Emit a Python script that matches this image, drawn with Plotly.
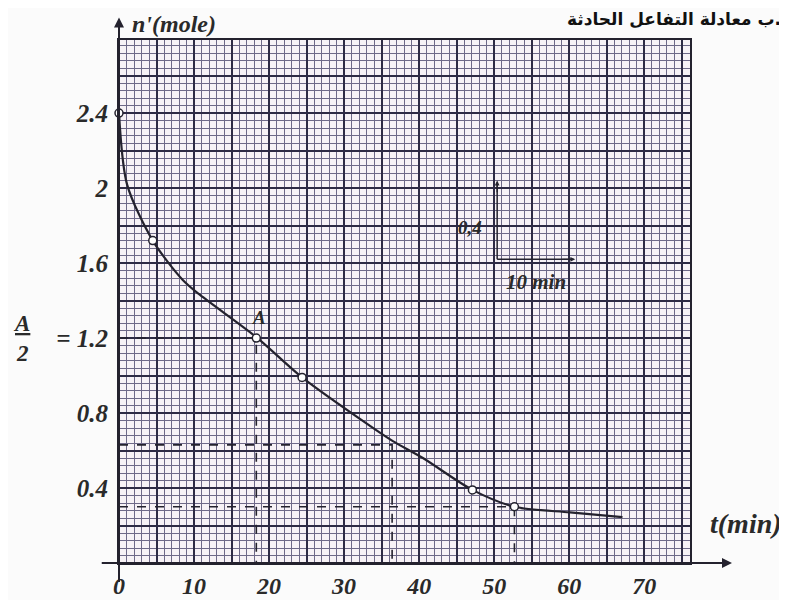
import plotly.graph_objects as go

# ---- data ----
curve_t = [0, 1.07, 4.5, 8.5, 10.8, 18.3, 24.4, 33.5, 36.5, 40.5, 47.1, 52.7, 60.1, 67.1]
curve_n = [2.40, 2.02, 1.72, 1.51, 1.43, 1.205, 0.99, 0.73, 0.65, 0.56, 0.39, 0.30, 0.27, 0.245]

point_t = [0, 4.5, 18.3, 24.4, 47.1, 52.7]
point_n = [2.40, 1.72, 1.20, 0.99, 0.39, 0.30]

# dashed reading lines (t_end, n_level)
guide_t = [18.3, 36.4, 52.7]
guide_n = [1.20, 0.63, 0.30]

x_tick_vals = [0, 5, 10, 15, 20, 25, 30, 35, 40, 45, 50, 55, 60, 65, 70, 75]
x_tick_text = ["0", "", "10", "", "20", "", "30", "", "40", "", "50", "", "60", "", "70", ""]
y_tick_vals = [0.0, 0.2, 0.4, 0.6, 0.8, 1.0, 1.2, 1.4, 1.6, 1.8, 2.0, 2.2, 2.4, 2.6]
y_tick_text = ["", "", "0.4", "", "0.8", "", "=\u00a01.2", "", "1.6", "", "2", "", "2.4", ""]

scale_origin = (50.4, 1.62)
scale_dt = 10
scale_dn = 0.4

X_RANGE = [0, 76.1]
Y_RANGE = [0, 2.79]

# plot area size in px (page body adds an 8px offset)
PW, PH = 571, 523
px_t = PW / (X_RANGE[1] - X_RANGE[0])
px_n = PH / (Y_RANGE[1] - Y_RANGE[0])


def px(t):
    return t / X_RANGE[1]


def py(n):
    return n / Y_RANGE[1]


ink = "#24222e"
serif = "Liberation Serif"

fig = go.Figure()

# dashed guides
for t_end, n_lvl in zip(guide_t, guide_n):
    fig.add_trace(go.Scatter(x=[0, t_end, t_end], y=[n_lvl, n_lvl, 0], mode="lines",
                             line=dict(color=ink, width=1.6, dash="dash"),
                             hoverinfo="skip", showlegend=False))

# curve
fig.add_trace(go.Scatter(x=curve_t, y=curve_n, mode="lines",
                         line=dict(color=ink, width=2.2, shape="spline", smoothing=0.8),
                         showlegend=False, cliponaxis=False))

# measured points
fig.add_trace(go.Scatter(x=point_t, y=point_n, mode="markers",
                         marker=dict(symbol="circle", size=8, color="white",
                                     line=dict(color=ink, width=1.5)),
                         showlegend=False, cliponaxis=False))

# scale indicator arrows
ox, oy = scale_origin
fig.add_trace(go.Scatter(x=[ox, ox], y=[oy, oy + scale_dn], mode="lines",
                         line=dict(color=ink, width=1.5), showlegend=False, hoverinfo="skip"))
fig.add_trace(go.Scatter(x=[ox, ox + scale_dt], y=[oy, oy], mode="lines",
                         line=dict(color=ink, width=1.5), showlegend=False, hoverinfo="skip"))

bi = dict(family=serif, weight="bold", style="italic", color="#2a2a2a")

y_tip, y_tail = 2.91, -0.11
x_tip, x_tail = 81.7, -2.5

annotations = [
    # axis arrows (paper refs so they may leave the plotting area)
    dict(x=px(0), y=py(y_tip), xref="paper", yref="paper", ax=0,
         ay=(y_tip - y_tail) * px_n, text="", showarrow=True, arrowhead=2,
         arrowsize=1, arrowwidth=2, arrowcolor=ink),
    dict(x=px(x_tip), y=py(0), xref="paper", yref="paper",
         ax=-(x_tip - x_tail) * px_t, ay=0, text="", showarrow=True, arrowhead=2,
         arrowsize=1, arrowwidth=2, arrowcolor=ink),
    dict(x=ox, y=oy + scale_dn + 0.02, ax=ox, ay=oy + scale_dn - 0.05, xref="x", yref="y",
         axref="x", ayref="y", text="", showarrow=True, arrowhead=2, arrowsize=0.8,
         arrowwidth=1.2, arrowcolor=ink),
    dict(x=ox + scale_dt + 0.4, y=oy, ax=ox + scale_dt - 1.5, ay=oy, xref="x", yref="y",
         axref="x", ayref="y", text="", showarrow=True, arrowhead=2, arrowsize=0.8,
         arrowwidth=1.2, arrowcolor=ink),
    # texts
    dict(x=px(1.5), y=py(2.875), xref="paper", yref="paper", text="n'(mole)", showarrow=False,
         xanchor="left", yanchor="middle", font=dict(size=24, **bi)),
    dict(x=px(83.6), y=py(0.21), xref="paper", yref="paper", text="t(min)", showarrow=False,
         xanchor="center", yanchor="middle", font=dict(size=28, **bi)),
    dict(x=18.6, y=1.31, xref="x", yref="y", text="A", showarrow=False,
         xanchor="center", yanchor="middle", font=dict(size=19, **bi)),
    dict(x=48.7, y=1.79, xref="x", yref="y", text="0,4", showarrow=False,
         xanchor="right", yanchor="middle", font=dict(size=19, **bi)),
    dict(x=55.6, y=1.50, xref="x", yref="y", text="10 min", showarrow=False,
         xanchor="center", yanchor="middle", font=dict(size=21, **bi)),
    dict(x=px(-13.0), y=py(1.2), xref="paper", yref="paper", text="<u>A</u><br>2",
         showarrow=False, xanchor="center", yanchor="middle", align="center",
         font=dict(size=23, **bi)),
    dict(x=px(88.5), y=py(2.90), xref="paper", yref="paper", text="ب معادلة التفاعل الحادثة.",
         showarrow=False, xanchor="right", yanchor="middle",
         font=dict(family="DejaVu Sans", size=17, weight="bold", color="#111")),
]

fig.update_layout(
    width=779, height=592,
    margin=dict(l=111, r=97, t=32, b=37, autoexpand=False),
    paper_bgcolor="#fbfbfb",
    plot_bgcolor="#f7f2f6",
    annotations=annotations,
    showlegend=False,
)

fig.update_xaxes(
    range=X_RANGE, tickvals=x_tick_vals, ticktext=x_tick_text,
    showgrid=True, gridcolor="#2e2b45", gridwidth=1.6,
    minor=dict(dtick=1, showgrid=True, gridcolor="#6e6988", gridwidth=1),
    showline=True, mirror=True, linecolor=ink, linewidth=2,
    ticks="", ticklabelstandoff=0, zeroline=False, automargin=False,
    tickfont=dict(size=24, **bi),
)
fig.update_yaxes(
    range=Y_RANGE, tickvals=y_tick_vals, ticktext=y_tick_text,
    showgrid=True, gridcolor="#2e2b45", gridwidth=1.6,
    minor=dict(dtick=0.04, showgrid=True, gridcolor="#6e6988", gridwidth=1),
    showline=True, mirror=True, linecolor=ink, linewidth=2,
    ticks="", ticklabelstandoff=4, zeroline=False, automargin=False,
    tickfont=dict(size=25, **bi),
)

fig.write_html("out.html")
